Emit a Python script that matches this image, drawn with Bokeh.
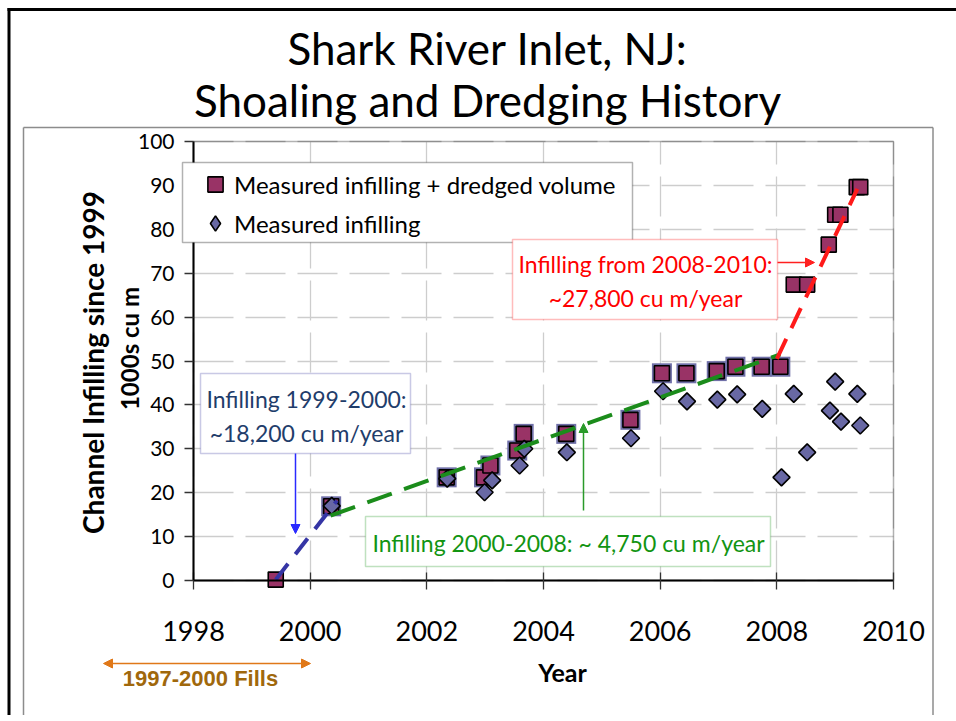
import numpy as np
from bokeh.plotting import figure
from bokeh.models import (Range1d, FixedTicker, Label, BoxAnnotation, Arrow,
                          NormalHead, Legend, LegendItem, Grid)
from bokeh.embed import file_html
from bokeh.resources import INLINE

# ---------------- data ----------------
x_ticks = [1998, 2000, 2002, 2004, 2006, 2008, 2010]
x_tick_labels = ["1998", "2000", "2002", "2004", "2006", "2008", "2010"]
y_ticks = [0, 10, 20, 30, 40, 50, 60, 70, 80, 90, 100]

# Measured infilling + dredged volume (1000s cu m)
sq_years = [1999.41, 2000.36, 2002.34, 2002.98, 2003.09, 2003.55, 2003.66, 2004.39,
            2005.49, 2006.03, 2006.45, 2006.97, 2007.29, 2007.74, 2008.06, 2008.29,
            2008.52, 2008.89, 2009.00, 2009.09, 2009.37, 2009.43]
sq_values = [0.2, 16.9, 23.5, 23.5, 26.2, 29.6, 33.4, 33.4,
             36.6, 47.2, 47.2, 47.7, 48.7, 48.7, 48.7, 67.4,
             67.4, 76.5, 83.3, 83.3, 89.6, 89.6]
sq_shadowed = [False] + [True] * 14 + [False] * 7

# Measured infilling (1000s cu m)
dm_years = [2000.37, 2002.35, 2002.99, 2003.12, 2003.59, 2003.67, 2004.40, 2005.50,
            2006.05, 2006.46, 2006.98, 2007.32, 2007.75, 2008.08, 2008.29, 2008.52,
            2008.91, 2009.00, 2009.10, 2009.38, 2009.43]
dm_values = [17.0, 23.2, 20.1, 22.8, 26.2, 30.0, 29.2, 32.4,
             43.1, 40.8, 41.2, 42.4, 39.1, 23.5, 42.5, 29.2,
             38.7, 45.3, 36.2, 42.5, 35.3]

# Trend lines
trend_1999_x = [1999.41, 2000.46]
trend_1999_y = [0.2, 18.2]
trend_2000_x = [2000.35, 2008.06]
trend_2000_y = [14.8, 51.5]
trend_2008_x = [2008.00, 2009.38]
trend_2008_y = [50.5, 89.2]

# ---------------- layout (pixels) ----------------
W, H = 956, 715
PL, PR, PT, PB = 193, 893, 141, 580          # plot area edges on the page
x0, x1 = x_ticks[0], x_ticks[-1]
y0, y1 = y_ticks[0], y_ticks[-1]
sx = (PR - PL) / (x1 - x0)
sy = (PB - PT) / (y1 - y0)

FONT = "Lato"

p = figure(width=W, height=H, output_backend="svg", toolbar_location=None,
           x_range=Range1d(x0 - PL / sx, x1 + (W - PR) / sx),
           y_range=Range1d(y0 - (H - PB) / sy, y1 + PT / sy),
           min_border=0, min_border_left=0, min_border_right=0,
           min_border_top=0, min_border_bottom=0)
p.background_fill_color = "white"
p.border_fill_color = "white"
p.outline_line_color = None
p.outline_line_alpha = 0

# ---------------- grid ----------------
use_cross = "cross_bounds" in Grid.properties()
for g, tk, cb in ((p.xgrid[0], x_ticks, (y0, y1)), (p.ygrid[0], y_ticks, (x0, x1))):
    g.ticker = FixedTicker(ticks=tk)
    g.grid_line_color = "#cdcdcd"
    g.grid_line_width = 1.3
    g.grid_line_dash = "40 12"
    if use_cross:
        g.cross_bounds = cb
    else:
        g.visible = False
if not use_cross:
    p.segment(x_ticks, [y0] * len(x_ticks), x_ticks, [y1] * len(x_ticks),
              line_color="#cdcdcd", line_width=1.3, line_dash="40 12")
    p.segment([x0] * len(y_ticks), y_ticks, [x1] * len(y_ticks), y_ticks,
              line_color="#cdcdcd", line_width=1.3, line_dash="40 12")

# plot-area outline
p.add_layout(BoxAnnotation(left=x0, right=x1, bottom=y0, top=y1, fill_alpha=0,
                           line_color="black", line_width=1.5, level="underlay"))

# ---------------- axes ----------------
xa = p.xaxis[0]
xa.fixed_location = y0
xa.bounds = (x0, x1)
xa.ticker = FixedTicker(ticks=x_ticks)
xa.major_label_overrides = {t: s for t, s in zip(x_ticks, x_tick_labels)}
xa.axis_line_width = 2
xa.axis_line_color = "black"
xa.major_tick_in = 8
xa.major_tick_out = 9
xa.major_tick_line_color = "#333333"
xa.major_tick_line_width = 1.3
xa.minor_tick_line_color = None
xa.major_label_text_font = FONT
xa.major_label_text_font_size = "27px"
xa.major_label_text_color = "black"
xa.major_label_standoff = 31

ya = p.yaxis[0]
ya.fixed_location = x0
ya.bounds = (y0, y1)
ya.ticker = FixedTicker(ticks=y_ticks)
ya.axis_line_width = 2
ya.axis_line_color = "black"
ya.major_tick_in = 0
ya.major_tick_out = 9
ya.major_tick_line_color = "#333333"
ya.major_tick_line_width = 1.3
ya.minor_tick_line_color = None
ya.major_label_text_font = FONT
ya.major_label_text_font_size = "21px"
ya.major_label_text_color = "black"
ya.major_label_standoff = 10


def cbox(l, t, r, b, color, width=1.5, fill="white"):
    p.add_layout(BoxAnnotation(left=l, top=t, right=r, bottom=b,
                               left_units="canvas", right_units="canvas",
                               top_units="canvas", bottom_units="canvas",
                               fill_color=fill, fill_alpha=1,
                               line_color=color, line_width=width))


def cline(xa_, ya_, xb, yb, color, width=1.5, end=None, start=None):
    p.add_layout(Arrow(x_start=xa_, y_start=ya_, x_end=xb, y_end=yb,
                       start_units="canvas", end_units="canvas",
                       line_color=color, line_width=width, end=end, start=start))


def head(color, size):
    return NormalHead(size=size, fill_color=color, line_color=color)


# ---------------- slide frames ----------------
cline(7, 9, W, 9, "black", width=3)
cline(8.5, 7.5, 8.5, H - 0.5, "black", width=3)
cline(23, 127, 932.5, 127, "#8c8c8c")
cline(23, 127, 23, H - 0.5, "#8c8c8c")
cline(932.5, 127, 932.5, H - 0.5, "#8c8c8c")

# ---------------- data glyphs ----------------
sh_x = [x for x, s in zip(sq_years, sq_shadowed) if s]
sh_y = [y for y, s in zip(sq_values, sq_shadowed) if s]
p.scatter(sh_x, sh_y, marker="square", size=20, fill_color="#7070a8",
          line_color=None)
sq_r = p.scatter(sq_years, sq_values, marker="square", size=15,
                 fill_color="#993366", line_color="black", line_width=1.6)
dm_r = p.scatter(dm_years, dm_values, marker="square", angle=np.pi / 4, size=12,
                 fill_color="#6868a4", line_color="black", line_width=1.6)
# legend key for the diamonds (not drawn in the plot: NaN position)
dm_key = p.scatter([np.nan], [np.nan], marker="diamond", size=12,
                   fill_color="#6868a4", line_color="black", line_width=1.6)

p.line(trend_1999_x, trend_1999_y, line_color="#3535a5", line_width=4,
       line_dash="20 12")
p.line(trend_2000_x, trend_2000_y, line_color="#1b8c1b", line_width=4,
       line_dash="26 13")
p.line(trend_2008_x, trend_2008_y, line_color="#ff1a1a", line_width=4,
       line_dash="22 12")

# ---------------- legend ----------------
cbox(182, 162, 632, 242, "black")
legend = Legend(items=[
    LegendItem(label="Measured infilling + dredged volume", renderers=[sq_r]),
    LegendItem(label="Measured infilling", renderers=[dm_key]),
], location=(196, H - 242), padding=0, margin=0, spacing=1,
    glyph_width=38, glyph_height=38, label_height=38, label_standoff=0,
    border_line_color=None, background_fill_alpha=0,
    label_text_font=FONT, label_text_font_size="24px", label_text_color="black")
p.add_layout(legend, "center")


def label(x, y, text, size, color="black", bold=False, angle=0.0,
          align="center", baseline="middle", font=FONT):
    p.add_layout(Label(x=x, y=y, x_units="canvas", y_units="canvas",
                       text=text, text_font=font, text_font_size=size,
                       text_color=color, text_align=align,
                       text_baseline=baseline, angle=angle,
                       text_font_style="bold" if bold else "normal"))


# ---------------- annotations ----------------
cbox(200, 373, 410, 453, "#4b4ba8")
label(306, 398, "Infilling 1999-2000:", "23px", "#1f3d6b")
label(306, 432, "~18,200 cu m/year", "23px", "#1f3d6b")
cline(295, 453, 295, 533, "#2a2aff", end=head("#2a2aff", 9))

cbox(365, 516, 770, 566, "#2a9a2a")
label(568, 542, "Infilling 2000-2008: ~ 4,750 cu m/year", "23px", "#129412")
cline(583, 510, 583, 423, "#2a9a2a", end=head("#2a9a2a", 9))

cbox(512, 239, 777, 319, "#ff2020")
label(645, 263, "Infilling from 2008-2010:", "23px", "#ff0000")
label(645, 297, "~27,800 cu m/year", "23px", "#ff0000")
cline(777, 262, 814, 262, "#ff2020", end=head("#ff2020", 9))

# titles & axis labels
label(487, 47, "Shark River Inlet, NJ:", "44px")
label(487, 99, "Shoaling and Dredging History", "44px")
label(92, 362, "Channel Infilling since 1999", "28px", bold=True, angle=np.pi / 2)
label(129, 348, "1000s cu m", "24px", bold=True, angle=np.pi / 2)
label(562, 671, "Year", "25px", bold=True)

cline(103, 663, 310, 663, "#e07818", end=head("#e07818", 9),
      start=head("#e07818", 9))
label(200, 678, "1997-2000 Fills", "22px", "#a0680c", bold=True,
      font="Liberation Sans")

open("out.html", "w").write(file_html(p, INLINE))
